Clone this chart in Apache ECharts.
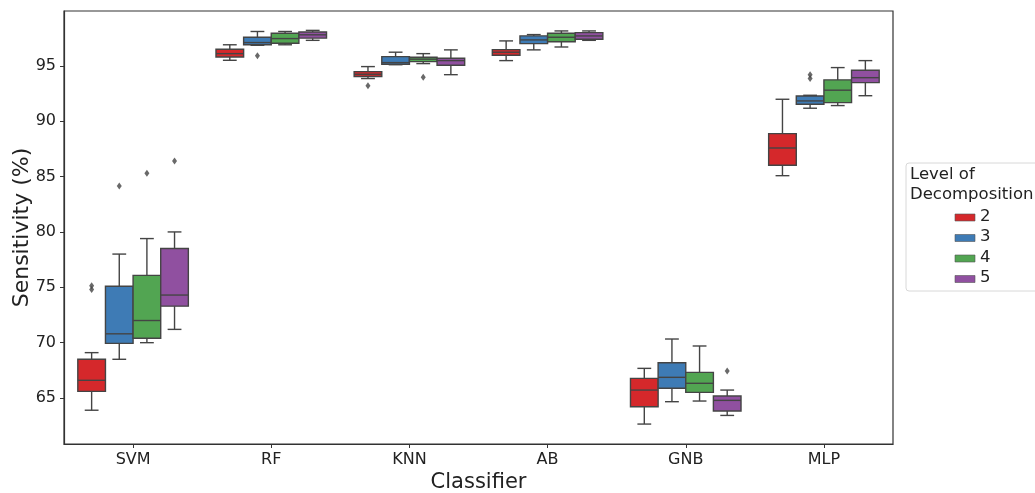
<!DOCTYPE html>
<html>
<head>
<meta charset="utf-8">
<script src="https://cdn.jsdelivr.net/npm/echarts@6/dist/echarts.min.js"></script>
<style>html,body{margin:0;padding:0;background:#fff;}#c{width:1035px;height:493px;}</style>
</head>
<body>
<div id="c"></div>
<script>
// ---- data ----
const categories = ['SVM', 'RF', 'KNN', 'AB', 'GNB', 'MLP'];
const levels = ['2', '3', '4', '5'];
const yTicks = [65, 70, 75, 80, 85, 90, 95];
// each entry: [min, Q1, median, Q3, max]
const level2 = [
  [63.9, 65.6, 66.6, 68.5, 69.1],
  [95.5, 95.8, 96.1, 96.5, 96.9],
  [93.85, 94.03, 94.24, 94.48, 94.93],
  [95.47, 95.96, 96.23, 96.46, 97.25],
  [62.65, 64.22, 65.72, 66.78, 67.68],
  [85.08, 86.02, 87.58, 88.88, 91.98]
];
const level3 = [
  [68.5, 69.94, 70.8, 75.1, 78.0],
  [96.85, 96.9, 97.1, 97.58, 98.1],
  [95.1, 95.14, 95.29, 95.83, 96.23],
  [96.44, 97.0, 97.34, 97.7, 97.82],
  [64.67, 65.88, 66.87, 68.19, 70.33],
  [91.17, 91.53, 91.83, 92.28, 92.34]
];
const level4 = [
  [70.0, 70.4, 72.0, 76.08, 79.4],
  [96.9, 97.04, 97.46, 97.94, 98.1],
  [95.2, 95.38, 95.6, 95.78, 96.1],
  [96.7, 97.18, 97.58, 97.94, 98.15],
  [64.73, 65.51, 66.33, 67.32, 69.7],
  [91.41, 91.68, 92.8, 93.73, 94.84]
];
const level5 = [
  [71.2, 73.3, 74.3, 78.5, 80.0],
  [97.3, 97.5, 97.8, 98.06, 98.2],
  [94.2, 95.05, 95.47, 95.69, 96.44],
  [97.3, 97.4, 97.7, 98.0, 98.15],
  [63.43, 63.83, 64.79, 65.18, 65.72],
  [92.3, 93.48, 93.93, 94.6, 95.47]
];
// outliers: [categoryIndex, value]
const outliers2 = [[0, 75.15], [0, 74.8], [2, 93.2]];
const outliers3 = [[0, 84.15], [1, 95.9], [5, 94.2], [5, 93.85]];
const outliers4 = [[0, 85.3], [2, 93.96]];
const outliers5 = [[0, 86.4], [4, 67.44]];

const colors = ['#d5282b', '#3e7bb5', '#52a552', '#9050a0'];
const lineColor = '#444444';

const levelStats = [level2, level3, level4, level5];
const levelOut = [outliers2, outliers3, outliers4, outliers5];
const boxW = 0.2;

function offsetOf(k) { return (k - 1.5) * boxW; }

const series = [];
levelStats.forEach(function (stats, k) {
  const data = stats.map(function (s, i) { return [i + offsetOf(k)].concat(s); });
  series.push({
    type: 'custom',
    name: levels[k],
    xAxisIndex: 1,
    yAxisIndex: 0,
    itemStyle: { color: colors[k] },
    data: data,
    encode: { x: 0, y: [1, 2, 3, 4, 5] },
    renderItem: function (params, api) {
      const x = api.value(0);
      const mn = api.coord([x, api.value(1)]);
      const q1 = api.coord([x, api.value(2)]);
      const md = api.coord([x, api.value(3)]);
      const q3 = api.coord([x, api.value(4)]);
      const mx = api.coord([x, api.value(5)]);
      const w = api.size([boxW, 0])[0];
      const cx = mn[0];
      const ls = { stroke: lineColor, lineWidth: 1.4 };
      return {
        type: 'group',
        children: [
          { type: 'line', shape: { x1: cx, y1: q3[1], x2: cx, y2: mx[1] }, style: ls },
          { type: 'line', shape: { x1: cx, y1: q1[1], x2: cx, y2: mn[1] }, style: ls },
          { type: 'line', shape: { x1: cx - w / 4, y1: mx[1], x2: cx + w / 4, y2: mx[1] }, style: ls },
          { type: 'line', shape: { x1: cx - w / 4, y1: mn[1], x2: cx + w / 4, y2: mn[1] }, style: ls },
          { type: 'rect', shape: { x: cx - w / 2, y: q3[1], width: w, height: q1[1] - q3[1] },
            style: { fill: colors[k], stroke: lineColor, lineWidth: 1.4 } },
          { type: 'line', shape: { x1: cx - w / 2, y1: md[1], x2: cx + w / 2, y2: md[1] }, style: ls }
        ]
      };
    }
  });
});
levelOut.forEach(function (pts, k) {
  series.push({
    type: 'scatter',
    xAxisIndex: 1,
    yAxisIndex: 0,
    symbol: 'diamond',
    symbolSize: [5, 7],
    itemStyle: { color: lineColor },
    data: pts.map(function (p) { return [p[0] + offsetOf(k), p[1]]; }),
    silent: true
  });
});

const chart = echarts.init(document.getElementById('c'), null, { renderer: 'canvas' });
const font = 'DejaVu Sans';
chart.setOption({
  animation: false,
  backgroundColor: '#ffffff',
  textStyle: { fontFamily: font },
  grid: { left: 64, right: 142, top: 11, bottom: 49, containLabel: false, outerBoundsMode: 'none' },
  xAxis: [
    {
      type: 'category',
      data: categories,
      position: 'bottom',
      axisLine: { show: true, onZero: false, lineStyle: { color: '#333', width: 1.2 } },
      axisTick: { show: true, alignWithLabel: true, length: 4, lineStyle: { color: '#333' } },
      axisLabel: { color: '#222', fontSize: 16, fontFamily: font, margin: 8 },
      name: 'Classifier',
      nameLocation: 'middle',
      nameGap: 28,
      nameMoveOverlap: false,
      nameTextStyle: { fontSize: 21, color: '#222', fontFamily: font },
      splitLine: { show: false }
    },
    {
      type: 'value',
      min: -0.5,
      max: 5.5,
      show: false,
      axisLine: { onZero: false }
    }
  ],
  yAxis: [
    {
      type: 'value',
      min: 60.85,
      max: 99.95,
      position: 'left',
      axisLine: { show: true, onZero: false, lineStyle: { color: '#333', width: 1.2 } },
      axisTick: { show: true, length: 4, customValues: yTicks, lineStyle: { color: '#333' } },
      axisLabel: { color: '#222', fontSize: 16, fontFamily: font, margin: 8, customValues: yTicks },
      splitLine: { show: false },
      name: 'Sensitivity (%)',
      nameLocation: 'middle',
      nameGap: 31,
      nameMoveOverlap: false,
      nameRotate: 90,
      nameTextStyle: { fontSize: 22, color: '#222', fontFamily: font }
    }
  ],
  graphic: [
    { type: 'rect', shape: { x: 64, y: 11, width: 829, height: 433 }, style: { fill: 'none', stroke: '#333', lineWidth: 1.2 }, silent: true, z: 100 },
    { type: 'rect', shape: { x: 906, y: 163, width: 140, height: 128, r: 3 }, style: { fill: '#fff', stroke: '#d8d8d8', lineWidth: 1 }, z: 50 },
    { type: 'text', x: 910, y: 165, style: { text: 'Level of\nDecomposition', fontSize: 16.5, fontFamily: font, fill: '#222', lineHeight: 20 }, z: 51 }
  ].concat(levels.map(function (lv, k) {
    return { type: 'group', z: 51, children: [
      { type: 'rect', shape: { x: 955, y: 214 + k * 20.5, width: 20, height: 7 }, style: { fill: colors[k], stroke: '#555', lineWidth: 0.6 }, z: 51 },
      { type: 'text', x: 980, y: 208 + k * 20.5, style: { text: lv, fontSize: 16.5, fontFamily: font, fill: '#222' }, z: 51 }
    ] };
  })),
  series: series
});
</script>
</body>
</html>
